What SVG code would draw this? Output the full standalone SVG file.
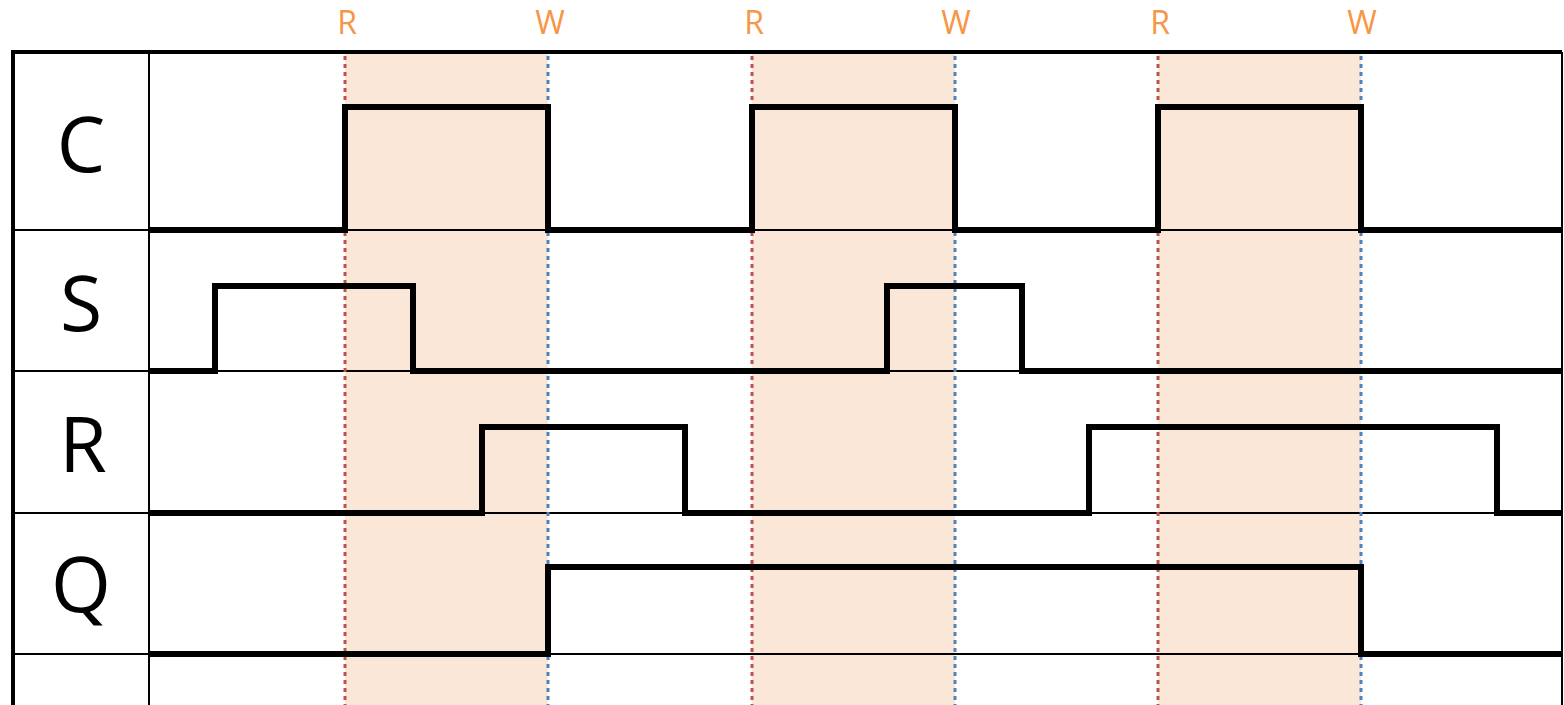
<svg xmlns="http://www.w3.org/2000/svg" width="1564" height="705" viewBox="0 0 1564 705">
<style>
.shade{fill:#FBE7D8;stroke:none}
.grid{stroke:#000;stroke-width:2;fill:none}
.border{stroke:#000;stroke-width:4;fill:none}
.rd{stroke:#C0504D;stroke-width:3;stroke-dasharray:4 4;fill:none}
.wr{stroke:#4F81BD;stroke-width:3;stroke-dasharray:4 4;fill:none}
.sig{stroke:#000;stroke-width:6;fill:none;stroke-linejoin:miter;stroke-linecap:square}
.lbl{font-family:"Open Sans","Liberation Sans",sans-serif;font-size:77px;fill:#000;text-anchor:middle}
.top{font-family:"Open Sans","Liberation Sans",sans-serif;font-size:32px;fill:#F79646;text-anchor:middle}
</style>
<rect width="1564" height="705" fill="#fff"/>
<g id="shading">
<rect class="shade" x="345" y="52" width="203" height="653"/>
<rect class="shade" x="752" y="52" width="203" height="653"/>
<rect class="shade" x="1158" y="52" width="203" height="653"/>
</g>
<g id="grid">
<path class="grid" d="M13 230H1562M13 371H1562M13 513H1562M13 654H1562M149 52V705M1562 52V705"/>
<path class="border" d="M13 705V52H1562"/>
</g>
<g id="markers">
<path class="rd" d="M345 56V705M752 56V705M1158 56V705"/>
<path class="wr" d="M548 56V705M955 56V705M1361 56V705"/>
<text class="top" x="347" y="34">R</text>
<text class="top" x="550" y="34">W</text>
<text class="top" x="754" y="34">R</text>
<text class="top" x="956" y="34">W</text>
<text class="top" x="1160" y="34">R</text>
<text class="top" x="1362" y="34">W</text>
</g>
<g id="row-C">
<text class="lbl" x="81" y="172">C</text>
<path class="sig" d="M152 230H345V107H548V230H752V107H955V230H1158V107H1361V230H1560"/>
</g>
<g id="row-S">
<text class="lbl" x="81" y="331">S</text>
<path class="sig" d="M152 371H215V286H413V371H887V286H1022V371H1560"/>
</g>
<g id="row-R">
<text class="lbl" x="83" y="472">R</text>
<path class="sig" d="M152 513H482V427H685V513H1089V427H1497V513H1560"/>
</g>
<g id="row-Q">
<text class="lbl" x="81" y="612">Q</text>
<path class="sig" d="M152 654H548V567H1361V654H1560"/>
</g>
</svg>
